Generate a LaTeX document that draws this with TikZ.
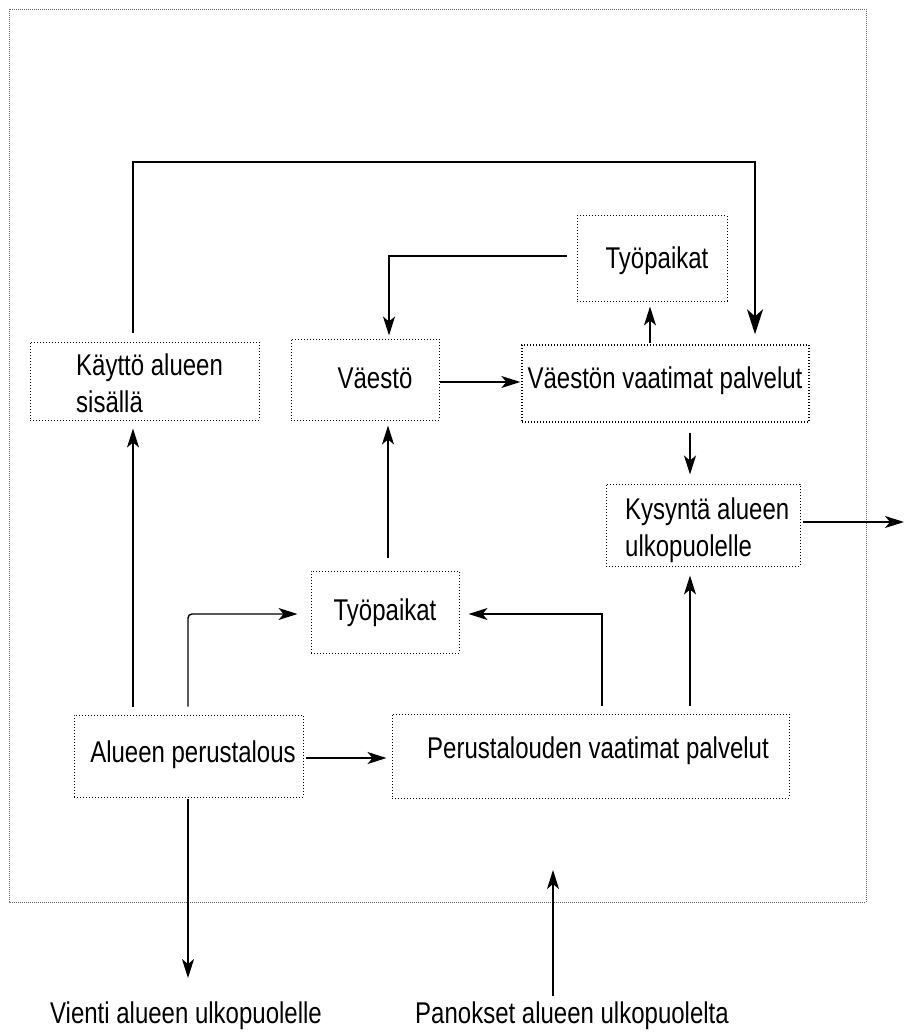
\documentclass[tikz,border=0pt]{standalone}
\usepackage{fontspec}
\setmainfont{Liberation Sans}[FakeStretch=0.8]
\usetikzlibrary{arrows.meta}

\tikzset{
  box/.style={draw, line width=1pt, dash pattern=on 1pt off 2pt, inner sep=0pt},
  lbl/.style={inner sep=0pt, font=\fontsize{30}{37}\selectfont, align=left},
  conn/.style={draw, line width=1.4pt, -{Stealth[length=19pt, width=12pt, inset=5pt]}},
  bigconn/.style={draw, line width=2pt, -{Stealth[length=25pt, width=16pt, inset=7pt]}},
  frame/.style={draw=black!60, line width=0.8pt, dash pattern=on 1pt off 1pt}
}

\begin{document}
\begin{tikzpicture}[x=1pt, y=-1pt]
  \useasboundingbox (0,0) rectangle (904,1032);

  % region boundary
  \draw[frame] (9,9) rectangle (866,902);

  % boxes
  \node[box, minimum width=229pt, minimum height=78pt] (kaytto)  at (144.5,381)  {};
  \node[box, minimum width=148pt, minimum height=81pt] (vaesto)  at (365,379.5)  {};
  \node[box, minimum width=287pt, minimum height=77pt, line width=1.4pt] (vvp) at (665.5,383.5) {};
  \node[box, minimum width=150pt, minimum height=85pt] (tyoA)    at (652,258.5)  {};
  \node[box, minimum width=194pt, minimum height=82pt] (kysynta) at (703,525)    {};
  \node[box, minimum width=148pt, minimum height=82pt] (tyoB)    at (385,612)    {};
  \node[box, minimum width=229pt, minimum height=82pt] (alueen)  at (188.5,756)  {};
  \node[box, minimum width=397pt, minimum height=84pt] (peru)    at (590.5,756)  {};

  % box texts (base of a two-line label is its last line)
  \node[lbl, anchor=base west] (tkaytto) at (76,412) {Käyttö alueen\\sisällä};
  \node[lbl, anchor=base] (tvaesto) at (375,388) {Väestö};
  \node[lbl, anchor=base] (tvvp) at (665,388) {Väestön vaatimat palvelut};
  \node[lbl, anchor=base] (ttyoA) at (657,268) {Työpaikat};
  \node[lbl, anchor=base west] (tkysynta) at (625,556) {Kysyntä alueen\\ulkopuolelle};
  \node[lbl, anchor=base] (ttyoB) at (385,620) {Työpaikat};
  \node[lbl, anchor=base] (talueen) at (193,762) {Alueen perustalous};
  \node[lbl, anchor=base] (tperu) at (598,758) {Perustalouden vaatimat palvelut};

  % outside texts
  \node[lbl, anchor=base] (vienti) at (186,1023) {Vienti alueen ulkopuolelle};
  \node[lbl, anchor=base] (panokset) at (572,1023) {Panokset alueen ulkopuolelta};

  % free ends of the outward connectors
  \coordinate (ulos) at (904,522);
  \coordinate (sisaan) at (553,870);

  % feedback from use inside the region to population services
  \draw[bigconn] ([xshift=-11.5pt,yshift=9pt]kaytto.north) -- ++(0,-170)
      -| ([xshift=89.5pt,yshift=10pt]vvp.north);

  % jobs (top) -> population
  \draw[conn] ([xshift=-10pt,yshift=2.5pt]tyoA.west)
      -| ([xshift=24pt,yshift=3pt]vaesto.north);

  % population -> population services
  \draw[conn] ([yshift=-2.5pt]vaesto.east) -- ([yshift=1.5pt,xshift=-1pt]vvp.west);

  % population services -> jobs (top)
  \coordinate (p1) at ([xshift=-15.5pt,yshift=1pt]vvp.north);
  \draw[conn, shorten >=5pt] (p1) -- (p1 |- tyoA.south);

  % population services -> demand outside
  \coordinate (p2) at ([xshift=24.5pt,yshift=-10pt]vvp.south);
  \draw[conn, shorten >=9pt] (p2) -- (p2 |- kysynta.north);

  % demand -> outside
  \draw[conn] ([xshift=2pt,yshift=3pt]kysynta.east) -- (ulos);

  % basic economy -> use inside the region
  \coordinate (p3) at ([xshift=-55.5pt,yshift=8pt]alueen.north);
  \draw[conn, shorten >=8pt] (p3) -- (p3 |- kaytto.south);

  % basic economy -> jobs (bottom)
  \draw[conn, rounded corners=4pt] ([xshift=-0.5pt,yshift=8pt]alueen.north)
      |- ([xshift=-13pt,yshift=-2pt]tyoB.west);

  % basic economy services -> jobs (bottom)
  \draw[conn] ([xshift=11.5pt,yshift=8pt]peru.north)
      |- ([xshift=9pt,yshift=-2pt]tyoB.east);

  % basic economy services -> demand outside
  \coordinate (p4) at ([xshift=99.5pt,yshift=8pt]peru.north);
  \draw[conn, shorten >=9pt] (p4) -- (p4 |- kysynta.south);

  % jobs (bottom) -> population
  \coordinate (p5) at ([xshift=3pt,yshift=13pt]tyoB.north);
  \draw[conn, shorten >=5pt] (p5) -- (p5 |- vaesto.south);

  % basic economy -> basic economy services
  \draw[conn, shorten >=5pt] ([xshift=2pt,yshift=-2pt]alueen.east) -- ([yshift=-2pt]peru.west);

  % basic economy -> export
  \coordinate (p6) at ([xshift=-0.5pt,yshift=-1pt]alueen.south);
  \draw[conn, shorten >=23pt] (p6) -- (p6 |- vienti.north);

  % inputs from outside
  \draw[conn, shorten <=5pt] ([xshift=-19pt]panokset.north) -- (sisaan);
\end{tikzpicture}
\end{document}
